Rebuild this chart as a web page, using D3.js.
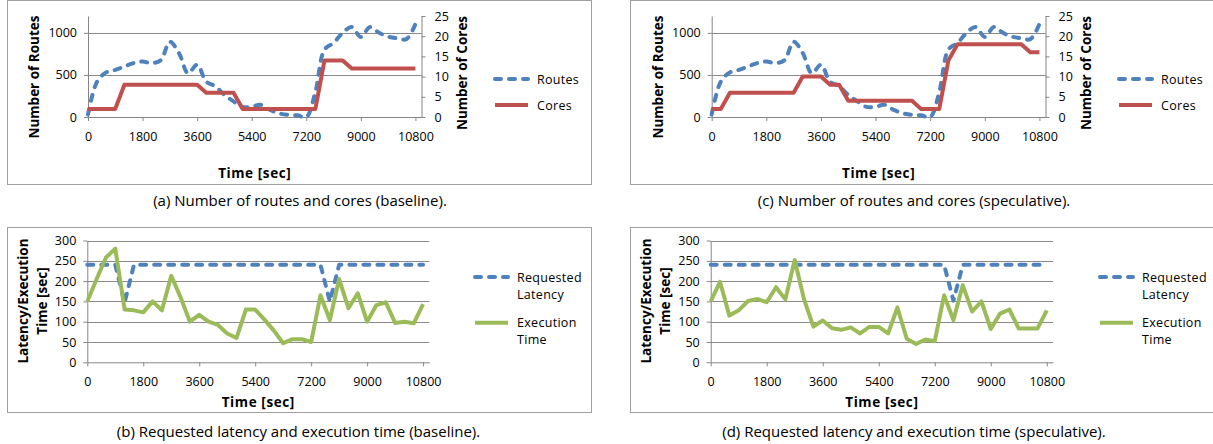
<!DOCTYPE html>
<html lang="en">
<head>
<meta charset="UTF-8">
<title>Routes, cores and latency</title>
<script src="https://d3js.org/d3.v7.min.js"></script>
<style>
  body { margin: 0; background: #fff; }
  text { font-family: "Open Sans", sans-serif; }
</style>
</head>
<body>
<div id="chart"></div>
<script>
// sample times (sec)
const times = [0, 300, 600, 900, 1200, 1500, 1800, 2100, 2400, 2700, 3000, 3300, 3600,
  3900, 4200, 4500, 4800, 5100, 5400, 5700, 6000, 6300, 6600, 6900, 7200,
  7500, 7800, 8100, 8400, 8700, 9000, 9300, 9600, 9900, 10200, 10500, 10800];

// number of routes (same workload in both runs)
const routes = [30, 420, 530, 560, 600, 640, 660, 640, 675, 893, 760, 520, 620,
  420, 365, 262, 185, 120, 122, 145, 85, 44, 25, 20, 0,
  300, 800, 880, 1000, 1070, 950, 1070, 1000, 955, 935, 925, 1105];

const coresBaseline = [2, 2, 2, 2, 8, 8, 8, 8, 8, 8, 8, 8, 8,
  6, 6, 6, 6, 2, 2, 2, 2, 2, 2, 2, 2,
  2, 14, 14, 14, 12, 12, 12, 12, 12, 12, 12, 12];

const coresSpeculative = [2, 2, 6, 6, 6, 6, 6, 6, 6, 6, 10, 10, 10,
  8, 8, 4, 4, 4, 4, 4, 4, 4, 4, 2, 2,
  2, 14, 18, 18, 18, 18, 18, 18, 18, 18, 16, 16];

const latencyBaseline = [240, 240, 240, 240, 147, 240, 240, 240, 240, 240, 240, 240, 240,
  240, 240, 240, 240, 240, 240, 240, 240, 240, 240, 240, 240,
  240, 150, 240, 240, 240, 240, 240, 240, 240, 240, 240, 240];

const execBaseline = [150, 205, 258, 280, 130, 128, 123, 150, 128, 213, 160, 100, 117,
  100, 92, 71, 60, 130, 130, 105, 78, 47, 57, 57, 50,
  165, 104, 205, 133, 170, 100, 141, 148, 97, 100, 96, 143];

const latencySpeculative = [240, 240, 240, 240, 240, 240, 240, 240, 240, 240, 240, 240, 240,
  240, 240, 240, 240, 240, 240, 240, 240, 240, 240, 240, 240,
  240, 152, 240, 240, 240, 240, 240, 240, 240, 240, 240, 240];

const execSpeculative = [150, 198, 115, 128, 151, 156, 148, 185, 155, 252, 155, 88, 103,
  84, 80, 86, 71, 87, 87, 71, 135, 58, 45, 56, 52,
  165, 104, 190, 125, 150, 82, 120, 130, 83, 83, 83, 128];

const xTicks = [0, 1800, 3600, 5400, 7200, 9000, 10800];
const routeTicks = [0, 500, 1000];
const coreTicks = [0, 5, 10, 15, 20, 25];
const latencyTicks = [0, 50, 100, 150, 200, 250, 300];

const captions = [
  "(a) Number of routes and cores (baseline).",
  "(b) Requested latency and execution time (baseline).",
  "(c) Number of routes and cores (speculative).",
  "(d) Requested latency and execution time (speculative)."
];

const BLUE = "#4f81bd", RED = "#c0504d", GREEN = "#9bbb59";
const AXIS = "#868686", GRID = "#8a8a8a", FRAME = "#a0a0a0";
const fmt = d3.format("d");

const svg = d3.select("#chart").append("svg")
  .attr("width", 1213).attr("height", 444);

function styleAxis(g) {
  g.select(".domain").attr("stroke", AXIS);
  g.selectAll(".tick line").attr("stroke", AXIS);
  g.selectAll(".tick text").attr("font-size", 12.5).attr("fill", "#000")
    .attr("font-family", "'Open Sans', sans-serif");
}

function boldTitle(sel) {
  sel.attr("text-anchor", "middle").attr("dominant-baseline", "central")
    .attr("font-size", 13.5).attr("font-weight", "bold");
}

function drawPanel(p) {
  const g = svg.append("g");

  g.append("rect")
    .attr("x", p.frame[0] + 0.5).attr("y", p.frame[1] + 0.5)
    .attr("width", p.frame[2] - p.frame[0]).attr("height", p.frame[3] - p.frame[1])
    .attr("fill", "none").attr("stroke", FRAME);

  const x = d3.scaleLinear().domain([0, 11000]).range([p.left, p.right]);
  const y = d3.scaleLinear().domain(p.yDomain).range([p.bottom, p.top]);

  // gridlines
  g.append("g").selectAll("line")
    .data(p.yTicks.filter(v => v > 0))
    .join("line")
    .attr("x1", p.left).attr("x2", p.right)
    .attr("y1", d => Math.round(y(d)) + 0.5).attr("y2", d => Math.round(y(d)) + 0.5)
    .attr("stroke", GRID).attr("stroke-width", 1.2);

  g.append("g")
    .attr("transform", `translate(${p.left},0)`)
    .call(d3.axisLeft(y).tickValues(p.yTicks).tickFormat(fmt)
      .tickSize(4).tickSizeOuter(0).tickPadding(7))
    .call(styleAxis);

  g.append("g")
    .attr("transform", `translate(0,${p.bottom})`)
    .call(d3.axisBottom(x).tickValues(xTicks).tickFormat(fmt)
      .tickSize(4).tickSizeOuter(0).tickPadding(11))
    .call(styleAxis);

  // axis titles
  g.append("text")
    .attr("x", (p.left + p.right) / 2).attr("y", p.xTitleY)
    .call(boldTitle)
    .attr("letter-spacing", 0.6)
    .text("Time [sec]");

  p.yTitle.forEach((t, i) => {
    g.append("text")
      .attr("transform", `translate(${p.yTitleX[i]},${p.yTitleY}) rotate(-90)`)
      .call(boldTitle)
      .text(t);
  });

  let y2 = null;
  if (p.y2Domain) {
    y2 = d3.scaleLinear().domain(p.y2Domain).range([p.bottom, p.top]);
    g.append("g")
      .attr("transform", `translate(${p.right},0)`)
      .call(d3.axisRight(y2).tickValues(coreTicks).tickFormat(fmt)
        .tickSize(4).tickSizeOuter(0).tickPadding(9))
      .call(styleAxis);
    g.append("text")
      .attr("transform", `translate(${p.right + 40},${p.y2TitleY}) rotate(-90)`)
      .call(boldTitle)
      .text("Number of Cores");
  }

  // series
  p.series.forEach(s => {
    const sc = s.axis === 2 ? y2 : y;
    const line = d3.line()
      .x((d, i) => x(times[i]))
      .y(d => sc(d))
      .curve(s.smooth ? d3.curveCatmullRom.alpha(0.5) : d3.curveLinear);
    g.append("path")
      .datum(s.values)
      .attr("fill", "none")
      .attr("stroke", s.color)
      .attr("stroke-width", 4)
      .attr("stroke-linejoin", "round")
      .attr("stroke-linecap", s.dashed ? "round" : "butt")
      .attr("stroke-dasharray", s.dashed ? "6,8" : null)
      .attr("d", line);
  });

  // legend
  p.series.forEach((s, i) => {
    const ly = p.legendY[i];
    g.append("line")
      .attr("x1", p.legendX).attr("x2", p.legendX + 33)
      .attr("y1", ly).attr("y2", ly)
      .attr("stroke", s.color).attr("stroke-width", 4)
      .attr("stroke-linecap", s.dashed ? "round" : "butt")
      .attr("stroke-dasharray", s.dashed ? "6,8" : null);
    s.label.forEach((t, j) => {
      g.append("text")
        .attr("x", p.legendX + 42).attr("y", ly + j * 17)
        .attr("dominant-baseline", "central")
        .attr("font-size", 12.5)
        .attr("letter-spacing", 0.3)
        .text(t);
    });
  });

  g.append("text")
    .attr("x", p.captionX).attr("y", p.captionY)
    .attr("text-anchor", "middle").attr("dominant-baseline", "central")
    .attr("font-size", 15)
    .text(p.caption);
}

const routesPanel = {
  yDomain: [0, 1200], yTicks: routeTicks, y2Domain: [0, 25],
  top: 16, bottom: 117, xTitleY: 173,
  yTitle: ["Number of Routes"], yTitleY: 77, y2TitleY: 73
};
const latencyPanel = {
  yDomain: [0, 300], yTicks: latencyTicks,
  top: 240.5, bottom: 362.3, xTitleY: 401.7,
  yTitle: ["Latency/Execution", "Time [sec]"], yTitleY: 301
};

drawPanel(Object.assign({}, routesPanel, {
  frame: [7, 0, 591, 184], left: 88, right: 421.5,
  yTitleX: [34],
  legendX: 495, legendY: [79, 105],
  captionX: 300, captionY: 200, caption: captions[0],
  series: [
    { values: routes, color: BLUE, dashed: true, smooth: true, axis: 1, label: ["Routes"] },
    { values: coresBaseline, color: RED, axis: 2, label: ["Cores"] }
  ]
}));

drawPanel(Object.assign({}, latencyPanel, {
  frame: [7, 227, 591, 412], left: 87.3, right: 429.3,
  yTitleX: [23, 41.5],
  legendX: 475, legendY: [277, 322.7],
  captionX: 298.5, captionY: 431, caption: captions[1],
  series: [
    { values: latencyBaseline, color: BLUE, dashed: true, label: ["Requested", "Latency"] },
    { values: execBaseline, color: GREEN, label: ["Execution", "Time"] }
  ]
}));

drawPanel(Object.assign({}, routesPanel, {
  frame: [630, 0, 1220, 184], left: 711.7, right: 1045.5,
  yTitleX: [657.7],
  legendX: 1119, legendY: [79, 105],
  captionX: 914, captionY: 200, caption: captions[2],
  series: [
    { values: routes, color: BLUE, dashed: true, smooth: true, axis: 1, label: ["Routes"] },
    { values: coresSpeculative, color: RED, axis: 2, label: ["Cores"] }
  ]
}));

drawPanel(Object.assign({}, latencyPanel, {
  frame: [630, 227, 1220, 412], left: 710.7, right: 1053,
  yTitleX: [646, 665],
  legendX: 1100, legendY: [277, 322.7],
  captionX: 914, captionY: 431, caption: captions[3],
  series: [
    { values: latencySpeculative, color: BLUE, dashed: true, label: ["Requested", "Latency"] },
    { values: execSpeculative, color: GREEN, label: ["Execution", "Time"] }
  ]
}));
</script>
</body>
</html>
